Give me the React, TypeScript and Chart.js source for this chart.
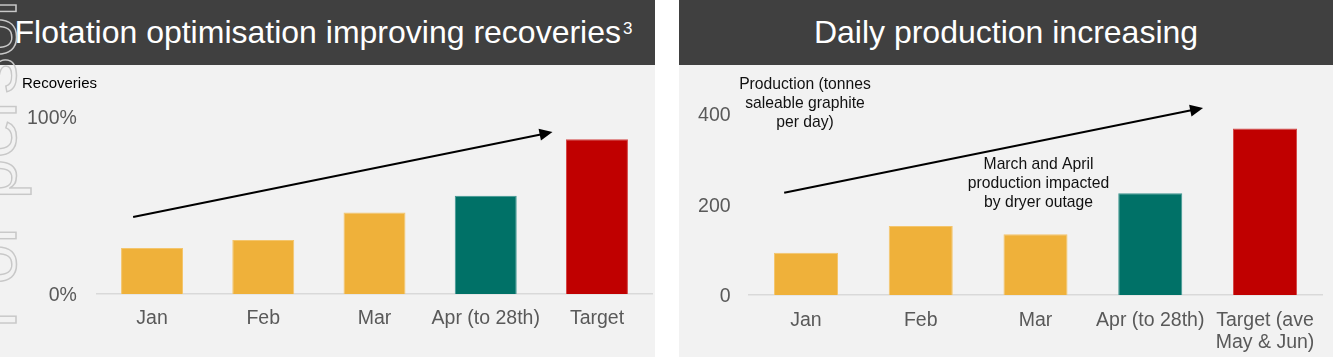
import React, { useEffect, useRef } from "react";
import { Chart, registerables } from "chart.js";

Chart.register(...registerables);

const FONT = '"Liberation Sans", Arial, Helvetica, sans-serif';

// ---------- Data: left chart (recoveries) ----------
const recoveryCategories = ["Jan", "Feb", "Mar", "Apr (to 28th)", "Target"];
const recoveryValues = [26, 30.5, 46, 55.5, 87.5];
const recoveryTicks = [0, 100];
// arrow endpoints in data units: [category index, value]
const recoveryArrowStart = [-0.17, 43.5];
const recoveryArrowEnd = [3.6, 91.5];

// ---------- Data: right chart (daily production) ----------
const productionCategories = ["Jan", "Feb", "Mar", "Apr (to 28th)", ["Target (ave", "May & Jun)"]];
const productionValues = [93, 152, 134, 224, 367];
const productionTicks = [0, 200, 400];
const productionArrowStart = [-0.19, 225];
const productionArrowEnd = [3.46, 412];

const barColors = ["#EFB13A", "#EFB13A", "#EFB13A", "#007167", "#C00000"];
const barEdges = ["#F4C56C", "#F4C56C", "#F4C56C", "#3D9690", "#D44848"];

type TextBlock = { lines: string[]; x: number; y: number; lh: number; align: CanvasTextAlign; size: number; color: string };

function overlayPlugin(start: number[], end: number[], texts: TextBlock[]) {
  return {
    id: "overlay",
    afterDraw(chart: any) {
      const ctx = chart.ctx as CanvasRenderingContext2D;
      const xs = chart.scales.x;
      const ys = chart.scales.y;
      const p0 = xs.getPixelForTick(0);
      const p1 = xs.getPixelForTick(1);
      const px = (v: number) => p0 + v * (p1 - p0);
      const x1 = px(start[0]);
      const y1 = ys.getPixelForValue(start[1]);
      const x2 = px(end[0]);
      const y2 = ys.getPixelForValue(end[1]);
      const ang = Math.atan2(y2 - y1, x2 - x1);
      const c = Math.cos(ang);
      const s = Math.sin(ang);
      const headLen = 13;
      const headW = 6;
      const bx = x2 - headLen * c;
      const by = y2 - headLen * s;
      ctx.save();
      ctx.strokeStyle = "#000";
      ctx.fillStyle = "#000";
      ctx.lineWidth = 2;
      ctx.beginPath();
      ctx.moveTo(x1, y1);
      ctx.lineTo(bx + 1 * c, by + 1 * s);
      ctx.stroke();
      ctx.beginPath();
      ctx.moveTo(x2, y2);
      ctx.lineTo(bx - headW * s, by + headW * c);
      ctx.lineTo(bx + headW * s, by - headW * c);
      ctx.closePath();
      ctx.fill();
      for (const t of texts) {
        ctx.font = `${t.size}px ${FONT}`;
        ctx.fillStyle = t.color;
        ctx.textAlign = t.align;
        ctx.textBaseline = "middle";
        t.lines.forEach((l, i) => ctx.fillText(l, t.x, t.y + i * t.lh));
      }
      ctx.restore();
    },
  };
}

type ChartSpec = {
  width: number;
  height: number;
  categories: any[];
  values: number[];
  ticks: number[];
  max: number;
  suffix: string;
  yWidth: number;
  xHeight: number;
  padTop: number;
  padRight: number;
  barPct: number;
  tickPad: number;
  xPad: number;
  arrowStart: number[];
  arrowEnd: number[];
  texts: TextBlock[];
};

function BarPanelChart({ spec }: { spec: ChartSpec }) {
  const ref = useRef<HTMLCanvasElement | null>(null);
  useEffect(() => {
    if (!ref.current) return;
    const chart = new Chart(ref.current, {
      type: "bar",
      data: {
        labels: spec.categories,
        datasets: [
          {
            data: spec.values,
            backgroundColor: barColors,
            borderColor: barEdges,
            borderWidth: 1,
            barPercentage: spec.barPct,
            categoryPercentage: 1,
          },
        ],
      },
      options: {
        animation: false,
        responsive: false,
        maintainAspectRatio: false,
        devicePixelRatio: 1,
        layout: { padding: { top: spec.padTop, right: spec.padRight, left: 0, bottom: 0 } },
        plugins: { legend: { display: false }, tooltip: { enabled: false }, title: { display: false } },
        scales: {
          x: {
            grid: { display: false, drawTicks: false },
            border: { display: true, color: "#D9D9D9", width: 1.5 },
            ticks: {
              color: "#595959",
              font: { family: FONT, size: 19.5, lineHeight: 1.1 },
              padding: spec.xPad,
              maxRotation: 0,
              minRotation: 0,
              autoSkip: false,
            },
            afterFit: (s: any) => {
              s.height = spec.xHeight;
            },
          },
          y: {
            min: 0,
            max: spec.max,
            grid: { display: false, drawTicks: false },
            border: { display: false },
            ticks: {
              color: "#595959",
              font: { family: FONT, size: 19.5 },
              padding: spec.tickPad,
              labelOffset: 2,
              callback: (v: any) => `${v}${spec.suffix}`,
            },
            afterBuildTicks: (s: any) => {
              s.ticks = spec.ticks.map((v) => ({ value: v }));
            },
            afterFit: (s: any) => {
              s.width = spec.yWidth;
            },
          },
        },
      },
      plugins: [overlayPlugin(spec.arrowStart, spec.arrowEnd, spec.texts)],
    });
    return () => chart.destroy();
  }, [spec]);
  return (
    <canvas
      ref={ref}
      width={spec.width}
      height={spec.height}
      style={{ position: "absolute", left: 0, top: 65, width: spec.width, height: spec.height }}
    />
  );
}

const leftSpec: ChartSpec = {
  width: 655,
  height: 292,
  categories: recoveryCategories,
  values: recoveryValues,
  ticks: recoveryTicks,
  max: 100,
  suffix: "%",
  yWidth: 96.4,
  xHeight: 63,
  padTop: 52,
  padRight: 2.4,
  barPct: 0.557,
  tickPad: 19.5,
  xPad: 14,
  arrowStart: recoveryArrowStart,
  arrowEnd: recoveryArrowEnd,
  texts: [{ lines: ["Recoveries"], x: 22, y: 19, lh: 19, align: "left", size: 15, color: "#000" }],
};

const rightSpec: ChartSpec = {
  width: 654,
  height: 292,
  categories: productionCategories,
  values: productionValues,
  ticks: productionTicks,
  max: 400,
  suffix: "",
  yWidth: 69.6,
  xHeight: 62,
  padTop: 48.4,
  padRight: 10.6,
  barPct: 0.558,
  tickPad: 18,
  xPad: 15,
  arrowStart: productionArrowStart,
  arrowEnd: productionArrowEnd,
  texts: [
    { lines: ["Production (tonnes", "saleable graphite", "per day)"], x: 126, y: 19.5, lh: 19.2, align: "center", size: 15.7, color: "#111" },
    { lines: ["March and April", "production impacted", "by dryer outage"], x: 359.5, y: 99.8, lh: 18.8, align: "center", size: 15.7, color: "#111" },
  ],
};

export default function App() {
  useEffect(() => {
    document.body.style.margin = "0";
  }, []);
  const titleBase: React.CSSProperties = {
    position: "absolute",
    left: 0,
    top: 0,
    height: 65,
    background: "#404040",
    color: "#fff",
    fontFamily: FONT,
    fontSize: 32,
    lineHeight: "65px",
    whiteSpace: "nowrap",
  };
  return (
    <div style={{ position: "absolute", left: 0, top: 0, width: 1333, height: 362, background: "#fff", overflow: "hidden" }}>
      <div style={{ position: "absolute", left: 0, top: 0, width: 655, height: 357, background: "#F2F2F2" }}>
        <div style={{ ...titleBase, width: 655, paddingLeft: 14.5, boxSizing: "border-box" }}>
          Flotation optimisation improving recoveries
          <span style={{ fontSize: 17, position: "relative", top: -9, marginLeft: 2 }}>3</span>
        </div>
        <BarPanelChart spec={leftSpec} />
      </div>
      <div style={{ position: "absolute", left: 679, top: 0, width: 654, height: 357, background: "#F2F2F2" }}>
        <div style={{ ...titleBase, width: 654, textAlign: "center" }}>Daily production increasing</div>
        <BarPanelChart spec={rightSpec} />
      </div>
      <span
        style={{
          position: "absolute",
          left: -45.8,
          top: 329,
          transform: "rotate(-90deg)",
          transformOrigin: "0 0",
          fontFamily: FONT,
          fontSize: 73,
          lineHeight: 1,
          whiteSpace: "nowrap",
          color: "transparent",
          WebkitTextStroke: "1.4px #C8C8C8",
          pointerEvents: "none",
        }}
      >
        For personal use only
      </span>
    </div>
  );
}
